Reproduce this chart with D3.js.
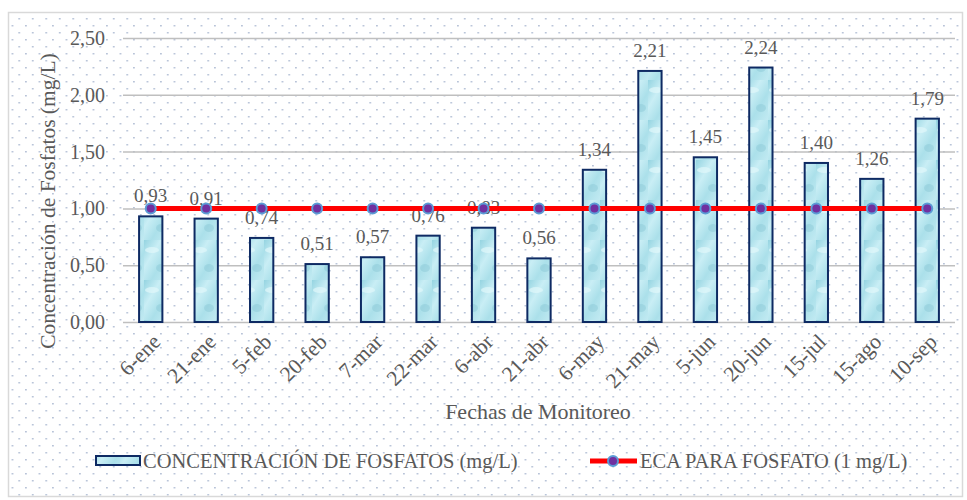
<!DOCTYPE html>
<html>
 <head>
  <meta charset="utf-8">
  <title>Concentración de Fosfatos</title>
  <script src="https://cdnjs.cloudflare.com/ajax/libs/d3/7.8.5/d3.min.js"></script>
  <style>
    body { margin: 0; background: #fff; }
    svg text { font-family: "Liberation Serif", "Times New Roman", serif; fill: #595959; }
  </style>
 </head>
 <body>
  <div id="chart"></div>
  <script>
    // data
    var fechas = ["6-ene", "21-ene", "5-feb", "20-feb", "7-mar", "22-mar", "6-abr", "21-abr",
                  "6-may", "21-may", "5-jun", "20-jun", "15-jul", "15-ago", "10-sep"];
    var fosfatos = [0.93, 0.91, 0.74, 0.51, 0.57, 0.76, 0.83, 0.56, 1.34, 2.21, 1.45, 2.24, 1.40, 1.26, 1.79];
    var eca = [1, 1, 1, 1, 1, 1, 1, 1, 1, 1, 1, 1, 1, 1, 1];
    var yTicks = [0, 0.5, 1, 1.5, 2, 2.5];

    var width = 967, height = 500;
    var plot = { left: 123, right: 955, top: 38, bottom: 322 };
    var serif = "'Liberation Serif', 'Times New Roman', serif";
    var fmt = function(v) { return d3.format(".2f")(v).replace(".", ","); };

    var svg = d3.select("#chart")
                .append("svg")
                .attr("width", width)
                .attr("height", height)
                .attr("font-family", serif);

    var defs = svg.append("defs");

    // dotted background
    var dots = defs.append("pattern")
                   .attr("id", "dots")
                   .attr("patternUnits", "userSpaceOnUse")
                   .attr("width", 13.5).attr("height", 14);
    dots.append("rect").attr("x", 5).attr("y", 4).attr("width", 1.5).attr("height", 1.5).attr("fill", "#a9b7d0");
    dots.append("rect").attr("x", 11.7).attr("y", 11).attr("width", 1.5).attr("height", 1.5).attr("fill", "#a9b7d0");

    // water-like bar texture
    var grad = defs.append("linearGradient")
                   .attr("id", "water")
                   .attr("x1", 0).attr("y1", 0).attr("x2", 1).attr("y2", 1);
    grad.append("stop").attr("offset", "0%").attr("stop-color", "#95d4e1");
    grad.append("stop").attr("offset", "35%").attr("stop-color", "#c9eef5");
    grad.append("stop").attr("offset", "65%").attr("stop-color", "#abe0ea");
    grad.append("stop").attr("offset", "100%").attr("stop-color", "#c2eaf2");

    var tex = defs.append("pattern")
                  .attr("id", "tex")
                  .attr("patternUnits", "userSpaceOnUse")
                  .attr("width", 24).attr("height", 40);
    tex.append("rect").attr("width", 24).attr("height", 40).attr("fill", "url(#water)");
    tex.append("ellipse").attr("cx", 8).attr("cy", 10).attr("rx", 7).attr("ry", 3)
       .attr("fill", "#e2f8fc").attr("opacity", 0.7);
    tex.append("ellipse").attr("cx", 17).attr("cy", 28).attr("rx", 5).attr("ry", 4)
       .attr("fill", "#84c4d3").attr("opacity", 0.4);

    svg.append("rect")
       .attr("x", 8.5).attr("y", 12.5)
       .attr("width", 954).attr("height", 484)
       .attr("fill", "url(#dots)")
       .attr("stroke", "#d9d9d9")
       .attr("stroke-width", 1.5);

    var x = d3.scaleBand()
              .domain(fechas)
              .range([plot.left, plot.right])
              .paddingInner(0.58)
              .paddingOuter(0.29);

    var y = d3.scaleLinear()
              .domain([0, 2.5])
              .range([plot.bottom, plot.top]);

    // gridlines + y labels
    var yAxis = svg.append("g")
                   .attr("transform", "translate(" + plot.left + ",0)")
                   .call(d3.axisLeft(y).tickValues(yTicks).tickFormat(fmt)
                           .tickSize(-(plot.right - plot.left)).tickPadding(18));
    yAxis.attr("font-family", serif).attr("font-size", 20);
    yAxis.select(".domain").remove();
    yAxis.selectAll("line").attr("stroke", "#bfbfbf").attr("stroke-width", 1.5);
    yAxis.selectAll("text").attr("fill", "#595959");

    // x labels
    var xAxis = svg.append("g")
                   .attr("transform", "translate(0," + plot.bottom + ")")
                   .call(d3.axisBottom(x).tickSize(0));
    xAxis.attr("font-family", serif).attr("font-size", 21.5);
    xAxis.select(".domain").remove();
    xAxis.selectAll("text")
         .attr("fill", "#595959")
         .attr("text-anchor", "end")
         .attr("dy", null)
         .attr("transform", "translate(9,19) rotate(-45)");

    // bars
    svg.append("g").selectAll("rect")
       .data(fosfatos)
       .enter().append("rect")
       .attr("x", function(d, i) { return x(fechas[i]); })
       .attr("y", function(d) { return y(d); })
       .attr("width", x.bandwidth())
       .attr("height", function(d) { return y(0) - y(d); })
       .attr("fill", "url(#tex)")
       .attr("stroke", "#0e2a63")
       .attr("stroke-width", 2);

    // data labels
    svg.append("g").selectAll("text")
       .data(fosfatos)
       .enter().append("text")
       .attr("x", function(d, i) { return x(fechas[i]) + x.bandwidth() / 2; })
       .attr("y", function(d) { return y(d) - 14; })
       .attr("text-anchor", "middle")
       .attr("font-size", 19)
       .text(fmt);

    // ECA line
    var line = d3.line()
                 .x(function(d, i) { return x(fechas[i]) + x.bandwidth() / 2; })
                 .y(function(d) { return y(d); });
    svg.append("path")
       .datum(eca)
       .attr("d", line)
       .attr("fill", "none")
       .attr("stroke", "#ff0000")
       .attr("stroke-width", 5);
    svg.append("g").selectAll("circle")
       .data(eca)
       .enter().append("circle")
       .attr("cx", function(d, i) { return x(fechas[i]) + x.bandwidth() / 2; })
       .attr("cy", function(d) { return y(d); })
       .attr("r", 5)
       .attr("fill", "#7030a0")
       .attr("stroke", "#5b9bd5")
       .attr("stroke-width", 2);

    // axis titles
    svg.append("text")
       .attr("transform", "translate(55,201) rotate(-90)")
       .attr("text-anchor", "middle")
       .attr("font-size", 21.5)
       .text("Concentración de Fosfatos (mg/L)");
    svg.append("text")
       .attr("x", 538).attr("y", 419)
       .attr("text-anchor", "middle")
       .attr("font-size", 22)
       .text("Fechas de Monitoreo");

    // legend
    var leg = svg.append("g");
    leg.append("rect")
       .attr("x", 96).attr("y", 456).attr("width", 44).attr("height", 9)
       .attr("fill", "url(#tex)").attr("stroke", "#0e2a63").attr("stroke-width", 2);
    leg.append("text")
       .attr("x", 143).attr("y", 468)
       .attr("font-size", 20.5)
       .text("CONCENTRACIÓN DE FOSFATOS (mg/L)");
    leg.append("line")
       .attr("x1", 590).attr("x2", 637).attr("y1", 461).attr("y2", 461)
       .attr("stroke", "#ff0000").attr("stroke-width", 5);
    leg.append("circle")
       .attr("cx", 613).attr("cy", 461).attr("r", 5)
       .attr("fill", "#7030a0").attr("stroke", "#5b9bd5").attr("stroke-width", 2);
    leg.append("text")
       .attr("x", 640).attr("y", 468)
       .attr("font-size", 20.5)
       .text("ECA PARA FOSFATO (1 mg/L)");
  </script>
 </body>
</html>
